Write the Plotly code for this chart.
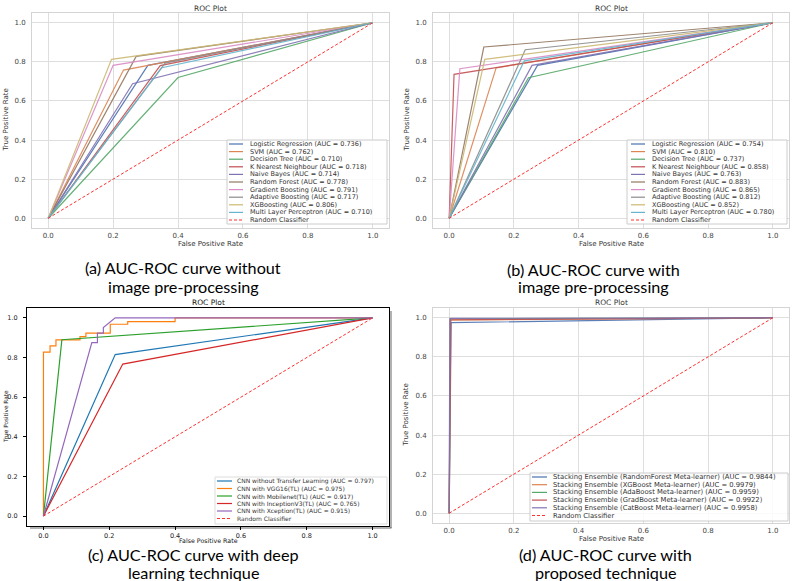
import plotly.graph_objects as go

W, H = 793, 581

# ---- data ----
# (a) without image pre-processing
names_ml = ["Logistic Regression", "SVM", "Decision Tree", "K Nearest Neighbour", "Naive Bayes",
            "Random Forest", "Gradient Boosting", "Adaptive Boosting", "XGBoosting",
            "Multi Layer Perceptron"]
auc_a = ["0.736", "0.762", "0.710", "0.718", "0.714", "0.778", "0.791", "0.717", "0.806", "0.710"]
fpr_a = [0.307, 0.232, 0.400, 0.345, 0.260, 0.271, 0.200, 0.360, 0.195, 0.350]
tpr_a = [0.782, 0.758, 0.720, 0.781, 0.688, 0.828, 0.782, 0.794, 0.813, 0.770]

# (b) with image pre-processing
auc_b = ["0.754", "0.810", "0.737", "0.858", "0.763", "0.883", "0.865", "0.812", "0.852", "0.780"]
fpr_b = [0.273, 0.145, 0.245, 0.015, 0.256, 0.107, 0.033, 0.235, 0.110, 0.232]
tpr_b = [0.782, 0.769, 0.719, 0.736, 0.782, 0.876, 0.765, 0.862, 0.813, 0.805]

# (c) deep learning
names_dl = ["CNN without Transfer Learning", "CNN with VGG16(TL)", "CNN with Mobilenet(TL)",
            "CNN with InceptionV3(TL)", "CNN with Xception(TL)"]
auc_c = ["0.797", "0.975", "0.917", "0.765", "0.915"]
fpr_cnn = [0, 0.218, 1]
tpr_cnn = [0, 0.815, 1]
fpr_vgg = [0, 0, 0.020, 0.020, 0.038, 0.038, 0.111, 0.111, 0.129, 0.129, 0.203, 0.203,
           0.256, 0.256, 0.400, 0.400, 1]
tpr_vgg = [0, 0.827, 0.827, 0.859, 0.859, 0.889, 0.889, 0.906, 0.906, 0.923, 0.923, 0.968,
           0.968, 0.981, 0.981, 1, 1]
fpr_mob = [0, 0.056, 1]
tpr_mob = [0, 0.890, 1]
fpr_inc = [0, 0.241, 1]
tpr_inc = [0, 0.767, 1]
fpr_xce = [0, 0.147, 0.164, 0.164, 0.182, 0.182, 0.218, 1]
tpr_xce = [0, 0.875, 0.875, 0.923, 0.923, 0.951, 1.0, 1.0]

# (d) proposed technique
names_st = ["Stacking Ensemble (RandomForest Meta-learner)", "Stacking Ensemble (XGBoost Meta-learner)",
            "Stacking Ensemble (AdaBoost Meta-learner)", "Stacking Ensemble (GradBoost Meta-learner)",
            "Stacking Ensemble (CatBoost Meta-learner)"]
auc_d = ["0.9844", "0.9979", "0.9959", "0.9922", "0.9958"]
fpr_d = [0.006, 0.003, 0.004, 0.005, 0.002]
tpr_d = [0.975, 0.988, 0.995, 0.990, 0.997]

captions = ["(a) AUC-ROC curve without<br>image pre-processing",
            "(b) AUC-ROC curve with<br>image pre-processing",
            "(c) AUC-ROC curve with deep<br>learning technique",
            "(d) AUC-ROC curve with<br>proposed technique"]
ticks = [0, 0.2, 0.4, 0.6, 0.8, 1.0]

deep = ['#4C72B0', '#DD8452', '#55A868', '#C44E52', '#8172B3', '#937860', '#DA8BC3',
        '#8C8C8C', '#CCB974', '#64B5CD']
tab10 = ['#1f77b4', '#ff7f0e', '#2ca02c', '#d62728', '#9467bd']
RED = '#ff3030'


def px(x):
    return x / W


def py(y):
    return 1 - y / H


fig = go.Figure()

# panel (a) and (b)
for k, (fprs, tprs) in enumerate([(fpr_a, tpr_a), (fpr_b, tpr_b)]):
    ax = 'x' if k == 0 else 'x2'
    ay = 'y' if k == 0 else 'y2'
    for i in range(len(fprs)):
        fig.add_trace(go.Scatter(x=[0, fprs[i], 1], y=[0, tprs[i], 1], mode='lines',
                                 line=dict(color=deep[i], width=1.2), opacity=0.9,
                                 xaxis=ax, yaxis=ay, showlegend=False))
    fig.add_trace(go.Scatter(x=[0, 1], y=[0, 1], mode='lines',
                             line=dict(color=RED, width=1, dash='3px,2px'),
                             xaxis=ax, yaxis=ay, showlegend=False))

# panel (c)
curves_c = [(fpr_cnn, tpr_cnn), (fpr_vgg, tpr_vgg), (fpr_mob, tpr_mob), (fpr_inc, tpr_inc), (fpr_xce, tpr_xce)]
for i, (fx, ty) in enumerate(curves_c):
    fig.add_trace(go.Scatter(x=fx, y=ty, mode='lines', line=dict(color=tab10[i], width=1.2),
                             xaxis='x3', yaxis='y3', showlegend=False))
fig.add_trace(go.Scatter(x=[0, 1], y=[0, 1], mode='lines',
                         line=dict(color=RED, width=1, dash='3px,2px'),
                         xaxis='x3', yaxis='y3', showlegend=False))

# panel (d)
for i in range(len(fpr_d)):
    fig.add_trace(go.Scatter(x=[0, 0, fpr_d[i], 1], y=[0, 0, tpr_d[i], 1], mode='lines',
                             line=dict(color=deep[i], width=1.2), opacity=0.9,
                             xaxis='x4', yaxis='y4', showlegend=False))
fig.add_trace(go.Scatter(x=[0, 1], y=[0, 1], mode='lines',
                         line=dict(color=RED, width=1, dash='3px,2px'),
                         xaxis='x4', yaxis='y4', showlegend=False))

# axes
boxes = [(32, 13, 389, 228), (433, 13, 789, 228), (27, 308, 389, 526), (433, 308, 789, 523)]
for k, (x0, y0, x1, y1) in enumerate(boxes):
    sfx = '' if k == 0 else str(k + 1)
    if k == 2:
        common = dict(range=[-0.05, 1.05], tickvals=ticks, tickformat='.1f', showgrid=False,
                      zeroline=False, showline=True, mirror=True, linecolor='black', linewidth=1,
                      ticks='outside', ticklen=3, tickcolor='black',
                      tickfont=dict(family='DejaVu Sans', size=6.5, color='#222'))
    else:
        common = dict(range=[-0.05, 1.05], tickvals=ticks, tickformat='.1f', showgrid=True,
                      gridcolor='#dedede', gridwidth=1, zeroline=False, showline=True, mirror=True,
                      linecolor='#d4d4d4', linewidth=1, ticks='',
                      tickfont=dict(family='DejaVu Sans', size=7, color='#444'))
    fig.layout['xaxis' + sfx] = dict(domain=[px(x0), px(x1)], anchor='y' + sfx,
                                     ticklabelstandoff=1 if k != 2 else 0, **common)
    fig.layout['yaxis' + sfx] = dict(domain=[py(y1), py(y0)], anchor='x' + sfx,
                                     ticklabelstandoff=4, **common)

annotations = []
shapes = []


def text(x, y, s, size, color='#333', angle=0, family='DejaVu Sans', xanchor='center'):
    annotations.append(dict(x=px(x), y=py(y), xref='paper', yref='paper', text=s, showarrow=False,
                            xanchor=xanchor, yanchor='middle', textangle=angle, borderpad=0,
                            font=dict(family=family, size=size, color=color)))


# titles and axis labels
for k, (x0, y0, x1, y1) in enumerate(boxes):
    cx = (x0 + x1) / 2
    text(cx, y0 - 5, 'ROC Plot', 7.5, '#333' if k != 2 else '#111')
    text(cx, y1 + (16 if k != 2 else 14), 'False Positive Rate', 7 if k != 2 else 6.3,
         '#333' if k != 2 else '#111')
    text(x0 - 27 if k != 2 else x0 - 21, (y0 + y1) / 2, 'True Positive Rate', 7 if k != 2 else 5.8,
         '#333' if k != 2 else '#111', angle=-90)

# captions
cap_pos = [(183, 267, 286), (593, 269, 287), (193, 554, 572), (605, 554, 572)]
for s, (cx, ya, yb) in zip(captions, cap_pos):
    l1, l2 = s.split('<br>')
    text(cx, ya, l1, 16.2, 'black', family='Lato')
    text(cx, yb, l2, 16.2, 'black', family='Lato')


def legend(box, row0, step, lx0, lx1, tx, labels, colors, size, border='#cccccc'):
    x0, y0, x1, y1 = box
    shapes.append(dict(type='rect', xref='paper', yref='paper', x0=px(x0), x1=px(x1),
                       y0=py(y1), y1=py(y0), fillcolor='rgba(255,255,255,0.85)',
                       line=dict(color=border, width=1), layer='above'))
    for i, (lab, col) in enumerate(zip(labels, colors)):
        yy = row0 + i * step
        dash = '3px,2px' if col == RED else 'solid'
        shapes.append(dict(type='line', xref='paper', yref='paper', x0=px(lx0), x1=px(lx1),
                           y0=py(yy), y1=py(yy), line=dict(color=col, width=1.2, dash=dash),
                           layer='above'))
        text(tx, yy, lab, size, '#333', xanchor='left')


lab_a = [n + ' (AUC = ' + a + ')' for n, a in zip(names_ml, auc_a)] + ['Random Classifier']
lab_b = [n + ' (AUC = ' + a + ')' for n, a in zip(names_ml, auc_b)] + ['Random Classifier']
lab_c = [n + ' (AUC = ' + a + ')' for n, a in zip(names_dl, auc_c)] + ['Random Classifier']
lab_d = [n + ' (AUC = ' + a + ')' for n, a in zip(names_st, auc_d)] + ['Random Classifier']

legend((227, 140, 387, 224), 144, 7.6, 229, 243, 249, lab_a, deep + [RED], 6.5)
legend((627, 140, 787, 224), 144, 7.6, 631, 645, 651, lab_b, deep + [RED], 6.5)
legend((215, 477, 387, 524), 481, 7.5, 217, 232, 236, lab_c, tab10 + [RED], 6.0, border='#dddddd')
legend((530, 473, 788, 521), 477, 7.7, 532, 547, 552, lab_d, deep[:5] + [RED], 6.8)

# soft drop shadow on the right and bottom of panel (c)
shapes.append(dict(type='line', xref='paper', yref='paper', x0=px(30), x1=px(391.5),
                   y0=py(528), y1=py(528), line=dict(color='rgba(0,0,0,0.3)', width=2)))
shapes.append(dict(type='line', xref='paper', yref='paper', x0=px(391), x1=px(391),
                   y0=py(311), y1=py(528), line=dict(color='rgba(0,0,0,0.3)', width=2)))

fig.update_layout(width=W, height=H, margin=dict(l=0, r=0, t=0, b=0),
                  paper_bgcolor='white', plot_bgcolor='white', showlegend=False,
                  annotations=annotations, shapes=shapes)

# page body has a default 8px margin; drop it so the figure sits at the window corner
fig.write_html("out.html", config={'displayModeBar': False},
               post_script="document.body.style.margin='0';")
